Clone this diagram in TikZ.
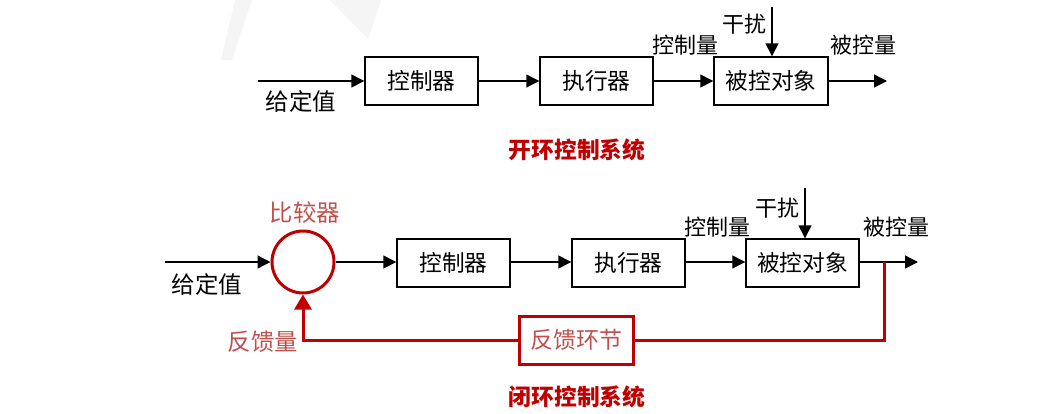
\documentclass[tikz,border=0pt]{standalone}
\usepackage{fontspec}
\setmainfont{Noto Sans CJK SC}
\usetikzlibrary{arrows.meta}
\definecolor{deepred}{RGB}{192,0,0}
\definecolor{softred}{RGB}{192,80,77}
\tikzset{
  block/.style={draw=black, line width=1.4pt, minimum width=113pt, minimum height=48pt,
    inner sep=0pt, font=\fontsize{22.7}{26}\selectfont},
  fbblock/.style={block, draw=deepred, line width=3pt, text=softred, font=\fontsize{23}{26}\selectfont},
  sig/.style={line width=1.4pt, -{Triangle[length=13pt,width=13pt]}},
  fbsig/.style={draw=deepred, line width=3pt},
  lbl/.style={font=\fontsize{22}{26}\selectfont, inner sep=0pt},
  setlbl/.style={font=\fontsize{23.5}{26}\selectfont, inner sep=0pt},
  redlbl/.style={text=softred, font=\fontsize{23.4}{26}\selectfont, inner sep=0pt},
  title/.style={font=\fontsize{22.7}{26}\selectfont\bfseries, text=deepred, inner sep=0pt}
}
\begin{document}
\begin{tikzpicture}[x=1pt,y=-1pt]
\useasboundingbox (0,0) rectangle (1045,413);
\fill[white] (0,0) rectangle (1045,413);
% faint background shapes
\fill[black!4] (235,0) -- (252,0) -- (232,60) -- (221,60) -- cycle;
\fill[black!4] (330,0) -- (381,0) -- (368,39) -- cycle;

% ---------- open loop ----------
\node[block] (ctrlA) at (421.5,81) {控制器};
\node[block] (actA) at (596.5,81) {执行器};
\node[block, minimum width=114pt] (plantA) at (771,81) {被控对象};
\coordinate (inA) at (258,81);
\coordinate (outA) at (887,81);
\coordinate (distA) at (772,7);
\draw[sig] (inA) -- (ctrlA.west);
\draw[sig] (ctrlA) -- (actA);
\draw[sig] (actA) -- (plantA);
\draw[sig] (plantA.east) -- (outA);
\draw[sig] (distA) -- (plantA.north -| distA);
\node[setlbl] (setA) at (301,102) {给定值};
\node[lbl] (uA) at (685,45) {控制量};
\node[lbl] (dA) at (744,24) {干扰};
\node[lbl] (yA) at (863,45) {被控量};
\node[title] (tA) at (577,150) {开环控制系统};

% ---------- closed loop ----------
\node[circle, draw=deepred, line width=3pt, minimum size=62pt, inner sep=0pt] (cmp) at (303,262) {};
\node[block] (ctrlB) at (453.5,263) {控制器};
\node[block] (actB) at (628.5,263) {执行器};
\node[block] (plantB) at (802.5,263) {被控对象};
\node[fbblock, minimum width=114pt] (fb) at (576,340) {反馈环节};
\coordinate (inB) at (165,262);
\coordinate (outB) at (918,262);
\coordinate (tap) at (884,262);
\coordinate (distB) at (805,188);
\draw[sig] (inB) -- (cmp.west);
\draw[sig] (cmp.east) -- (ctrlB.west |- cmp.east);
\draw[sig] (ctrlB.east |- inB) -- (actB.west |- inB);
\draw[sig] (actB.east |- inB) -- (plantB.west |- inB);
\draw[sig] (plantB.east |- inB) -- (outB);
\draw[sig] (distB) -- (plantB.north -| distB);
\draw[fbsig] (tap) |- (fb.east);
\draw[fbsig, -{Triangle[length=15pt,width=17pt]}] (fb.west) -| (cmp.south);
\node[redlbl] (cmpL) at (305,213) {比较器};
\node[setlbl] (setB) at (207,285) {给定值};
\node[redlbl] (fbL) at (263,342) {反馈量};
\node[lbl] (uB) at (717,227) {控制量};
\node[lbl] (dB) at (777,208) {干扰};
\node[lbl] (yB) at (896,227) {被控量};
\node[title] (tB) at (577,397) {闭环控制系统};
\end{tikzpicture}
\end{document}
